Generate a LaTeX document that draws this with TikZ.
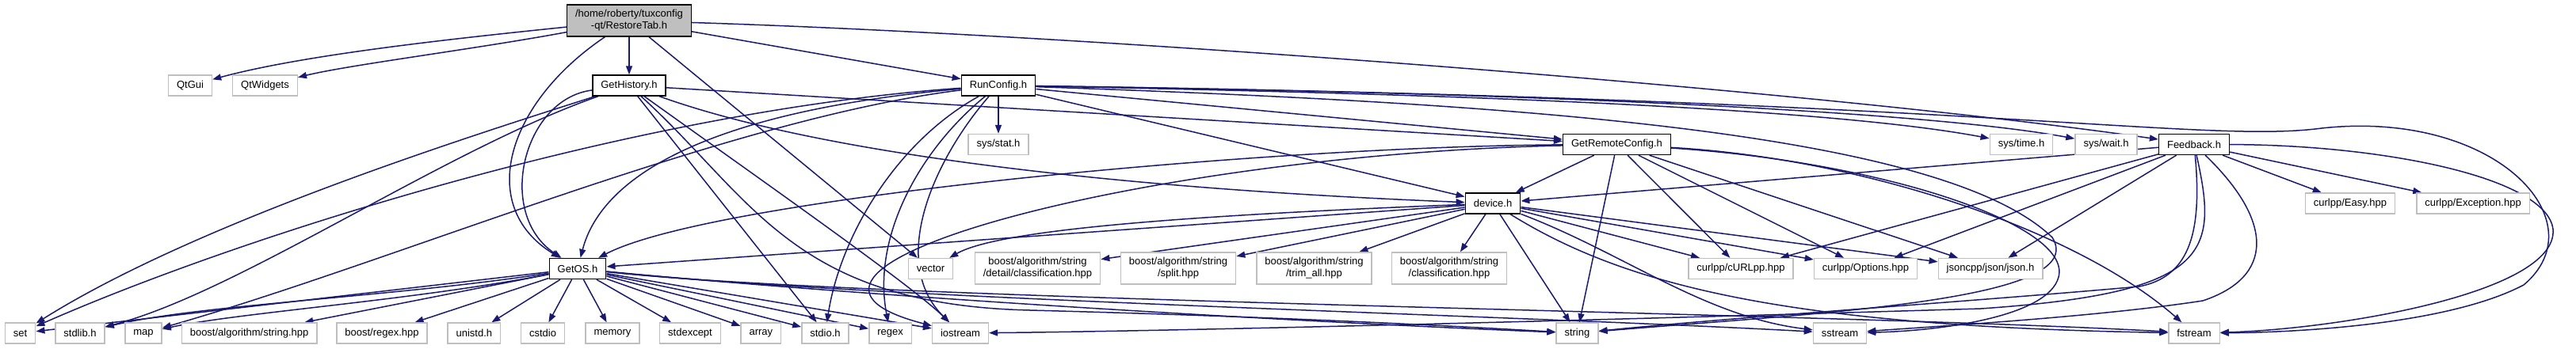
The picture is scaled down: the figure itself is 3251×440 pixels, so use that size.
\documentclass[tikz,border=0pt]{standalone}
\usepackage{xcolor}
\usepackage{fontspec}
\setmainfont{Liberation Sans}
\usepackage{tikz}
\usetikzlibrary{arrows.meta, backgrounds}

\definecolor{edgeblue}{HTML}{191970}
\definecolor{leafgray}{HTML}{BFBFBF}

\tikzset{
    hdr/.style={draw=black, line width=1.4pt, fill=white, minimum height=26pt, inner xsep=10.5pt, inner ysep=2pt, font=\fontsize{13}{15}\selectfont, align=center},
    leaf/.style={hdr, draw=leafgray},
    roothdr/.style={hdr, fill=leafgray, minimum height=40pt},
    twoline/.style={leaf, minimum height=40pt},
    dep/.style={draw=edgeblue, line width=1.5pt, -{Triangle[length=11pt, width=8pt]}}
}

\begin{document}
\begin{tikzpicture}[x=1pt, y=-1pt]
    \useasboundingbox (0, 0) rectangle (3251, 440);

    \node[roothdr] at (794, 26) (restoretab) {/home/roberty/tuxconfig\\-qt/RestoreTab.h};
    \node[leaf] at (240, 108) (qtgui) {QtGui};
    \node[leaf] at (334.5, 108) (qtwidgets) {QtWidgets};
    \node[hdr] at (794, 108) (gethistory) {GetHistory.h};
    \node[hdr] at (1260, 108) (runconfig) {RunConfig.h};
    \node[leaf] at (1260, 182.5) (sysstat) {sys/stat.h};
    \node[hdr] at (2040.5, 182.5) (getremote) {GetRemoteConfig.h};
    \node[leaf] at (2551, 182.5) (systime) {sys/time.h};
    \node[leaf] at (2658, 182.5) (syswait) {sys/wait.h};
    \node[hdr] at (2769, 182.5) (feedback) {Feedback.h};
    \node[hdr] at (1884, 257) (device) {device.h};
    \node[leaf] at (2966, 257) (easy) {curlpp/Easy.hpp};
    \node[leaf] at (3121, 257) (exception) {curlpp/Exception.hpp};
    \node[hdr] at (729, 339.5) (getos) {GetOS.h};
    \node[leaf] at (1174.5, 339.5) (vector) {vector};
    \node[twoline] at (1309.5, 339) (detailcls) {boost/algorithm/string\\/detail/classification.hpp};
    \node[twoline] at (1487, 339) (split) {boost/algorithm/string\\/split.hpp};
    \node[twoline] at (1658.5, 339) (trimall) {boost/algorithm/string\\/trim\_all.hpp};
    \node[twoline] at (1829, 339) (classification) {boost/algorithm/string\\/classification.hpp};
    \node[leaf] at (2197, 339.5) (curlpp) {curlpp/cURLpp.hpp};
    \node[leaf] at (2354.5, 339.5) (options) {curlpp/Options.hpp};
    \node[leaf] at (2512, 339.5) (json) {jsoncpp/json/json.h};
    \node[leaf] at (25.6, 421) (set) {set};
    \node[leaf] at (101, 421) (stdlib) {stdlib.h};
    \node[leaf] at (181, 421) (map) {map};
    \node[leaf] at (314.6, 421) (booststring) {boost/algorithm/string.hpp};
    \node[leaf] at (482, 421) (boostregex) {boost/regex.hpp};
    \node[leaf] at (598.4, 421) (unistd) {unistd.h};
    \node[leaf] at (685, 421) (cstdio) {cstdio};
    \node[leaf] at (773, 421) (memory) {memory};
    \node[leaf] at (871, 421) (stdexcept) {stdexcept};
    \node[leaf] at (960.4, 421) (array) {array};
    \node[leaf] at (1041.5, 421) (stdio) {stdio.h};
    \node[leaf] at (1123.6, 421) (regex) {regex};
    \node[leaf] at (1212, 421) (iostream) {iostream};
    \node[leaf] at (1990.4, 421) (string) {string};
    \node[leaf] at (2322, 421) (sstream) {sstream};
    \node[leaf] at (2769, 421) (fstream) {fstream};

    \begin{pgfonlayer}{background}
    \draw[dep] (restoretab) .. controls (560, 50) and (380, 70) .. (qtgui);
    \draw[dep] (restoretab) .. controls (600, 62) and (440, 82) .. (qtwidgets);
    \draw[dep] (restoretab) -- (gethistory);
    \draw[dep] (restoretab) .. controls (640, 130) and (600, 260) .. (getos);
    \draw[dep] (restoretab) -- (runconfig);
    \draw[dep] (restoretab) -- (vector);
    \draw[dep] (restoretab) .. controls (1400, 45) and (2300, 115) .. (feedback);

    \draw[dep] (gethistory) .. controls (660, 125) and (625, 270) .. (getos);
    \draw[dep] (gethistory) .. controls (600, 170) and (250, 280) .. (set);
    \draw[dep] (gethistory) .. controls (560, 190) and (300, 370) .. (stdlib);
    \draw[dep] (gethistory) -- (stdio);
    \draw[dep] (gethistory) .. controls (950, 220) and (1150, 360) .. (iostream);
    \draw[dep] (gethistory) .. controls (950, 250) and (1000, 385) .. (1300, 392) .. controls (1600, 400) and (1800, 410) .. (string);
    \draw[dep] (gethistory) -- (getremote);
    \draw[dep] (gethistory) .. controls (1050, 200) and (1450, 240) .. (device);

    \draw[dep] (runconfig) .. controls (900, 140) and (760, 220) .. (getos);
    \draw[dep] (runconfig) .. controls (800, 140) and (300, 300) .. (set);
    \draw[dep] (runconfig) .. controls (920, 150) and (500, 330) .. (map);
    \draw[dep] (runconfig) -- (sysstat);
    \draw[dep] (runconfig) .. controls (1130, 180) and (1060, 300) .. (stdio);
    \draw[dep] (runconfig) .. controls (1160, 190) and (1100, 300) .. (regex);
    \draw[dep] (runconfig) .. controls (1180, 200) and (1120, 330) .. (iostream);
    \draw[dep] (runconfig) -- (getremote);
    \draw[dep] (runconfig) -- (device);
    \draw[dep] (runconfig) .. controls (1800, 118) and (2300, 135) .. (systime);
    \draw[dep] (runconfig) .. controls (1800, 115) and (2400, 135) .. (syswait);
    \draw[dep] (runconfig) .. controls (1900, 130) and (2450, 165) .. (2590, 300) .. controls (2640, 380) and (2300, 395) .. (string);
    \draw[dep] (runconfig) .. controls (2500, 125) and (2780, 182) .. (2930, 162) .. controls (3150, 138) and (3280, 280) .. (3185, 360) .. controls (3090, 410) and (2900, 420) .. (fstream);

    \draw[dep] (getremote) -- (device);
    \draw[dep] (getremote) .. controls (1600, 185) and (900, 250) .. (getos);
    \draw[dep] (getremote) .. controls (1450, 195) and (900, 340) .. (iostream);
    \draw[dep] (getremote) -- (string);
    \draw[dep] (getremote) -- (curlpp);
    \draw[dep] (getremote) -- (options);
    \draw[dep] (getremote) -- (json);
    \draw[dep] (getremote) .. controls (2380, 205) and (2615, 285) .. (2598, 350) .. controls (2585, 400) and (2450, 418) .. (sstream);
    \draw[dep] (getremote) .. controls (2350, 200) and (2620, 290) .. (fstream);

    \draw[dep] (device) -- (getos);
    \draw[dep] (device) .. controls (1500, 272) and (1260, 290) .. (vector);
    \draw[dep] (device) -- (detailcls);
    \draw[dep] (device) -- (split);
    \draw[dep] (device) -- (trimall);
    \draw[dep] (device) -- (classification);
    \draw[dep] (device) -- (string);
    \draw[dep] (device) .. controls (2050, 320) and (2150, 400) .. (sstream);
    \draw[dep] (device) .. controls (2050, 360) and (2250, 412) .. (fstream);
    \draw[dep] (device) -- (curlpp);
    \draw[dep] (device) -- (options);
    \draw[dep] (device) -- (json);

    \draw[dep] (feedback) -- (device);
    \draw[dep] (feedback) -- (curlpp);
    \draw[dep] (feedback) -- (options);
    \draw[dep] (feedback) -- (json);
    \draw[dep] (feedback) .. controls (2780, 300) and (2760, 350) .. (2700, 362) .. controls (2500, 380) and (2200, 400) .. (string);
    \draw[dep] (feedback) .. controls (2800, 320) and (2790, 370) .. (2500, 390) .. controls (2000, 405) and (1500, 418) .. (iostream);
    \draw[dep] (feedback) .. controls (2870, 280) and (2870, 350) .. (2780, 380) .. controls (2650, 400) and (2450, 412) .. (sstream);
    \draw[dep] (feedback) -- (easy);
    \draw[dep] (feedback) -- (exception);
    \draw[dep] (feedback) .. controls (3010, 183) and (3215, 225) .. (3222, 290) .. controls (3228, 370) and (2950, 416) .. (fstream);

    \draw[dep] (getos) -- (set);
    \draw[dep] (getos) .. controls (500, 375) and (250, 385) .. (stdlib);
    \draw[dep] (getos) .. controls (520, 380) and (300, 395) .. (map);
    \draw[dep] (getos) -- (booststring);
    \draw[dep] (getos) -- (boostregex);
    \draw[dep] (getos) -- (unistd);
    \draw[dep] (getos) -- (cstdio);
    \draw[dep] (getos) -- (memory);
    \draw[dep] (getos) -- (stdexcept);
    \draw[dep] (getos) -- (array);
    \draw[dep] (getos) -- (stdio);
    \draw[dep] (getos) -- (regex);
    \draw[dep] (getos) -- (iostream);
    \draw[dep] (getos) .. controls (1100, 375) and (1600, 405) .. (string);
    \draw[dep] (getos) .. controls (1100, 378) and (1900, 398) .. (sstream);
    \draw[dep] (getos) .. controls (1100, 380) and (2300, 395) .. (fstream);
    \end{pgfonlayer}
\end{tikzpicture}
\end{document}
